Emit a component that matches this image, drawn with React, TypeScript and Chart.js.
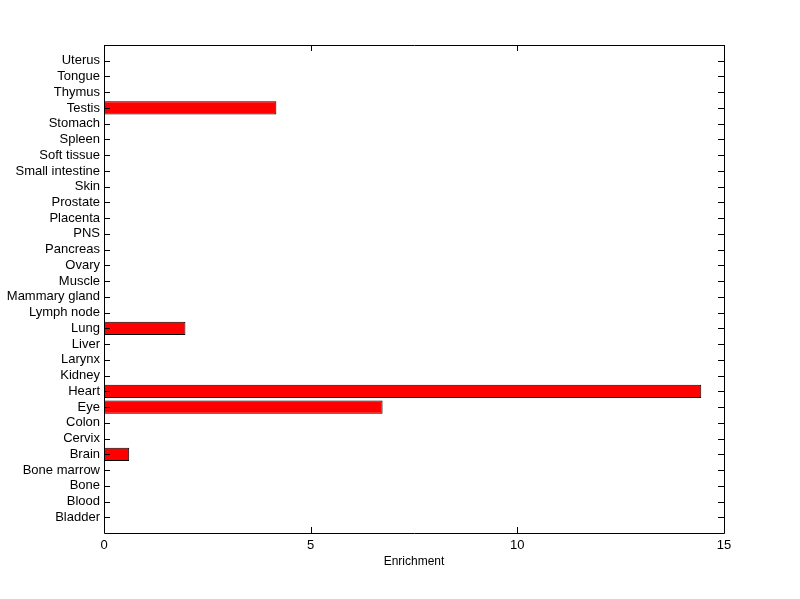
import React, { useEffect, useRef } from "react";
import { Chart, registerables } from "chart.js";

Chart.register(...registerables);

const categories = [
  "Bladder", "Blood", "Bone", "Bone marrow", "Brain", "Cervix", "Colon", "Eye", "Heart", "Kidney",
  "Larynx", "Liver", "Lung", "Lymph node", "Mammary gland", "Muscle", "Ovary", "Pancreas", "PNS",
  "Placenta", "Prostate", "Skin", "Small intestine", "Soft tissue", "Spleen", "Stomach", "Testis",
  "Thymus", "Tongue", "Uterus",
];
const enrichment = [
  0, 0, 0, 0, 0.61, 0, 0, 6.74, 14.45, 0,
  0, 0, 1.97, 0, 0, 0, 0, 0, 0,
  0, 0, 0, 0, 0, 0, 0, 4.17,
  0, 0, 0,
];
const xTicks = [0, 5, 10, 15];

const FONT = "'Liberation Sans', Arial, Helvetica, sans-serif";

const matlabBox = {
  id: "matlabBox",
  afterDraw(chart: any) {
    const { ctx, chartArea } = chart;
    const { left, right, top, bottom } = chartArea;
    const xs = chart.scales.x;
    const ys = chart.scales.y;
    ctx.save();
    ctx.strokeStyle = "#000";
    ctx.lineWidth = 1;
    ctx.beginPath();
    ctx.rect(Math.round(left) + 0.5, Math.round(top) + 0.5, Math.round(right - left), Math.round(bottom - top));
    ctx.stroke();
    ctx.beginPath();
    ys.ticks.forEach((t: any, i: number) => {
      if (t.label === "") return;
      const y = Math.round(ys.getPixelForTick(i)) + 0.5;
      ctx.moveTo(left, y);
      ctx.lineTo(left + 6, y);
      ctx.moveTo(right, y);
      ctx.lineTo(right - 6, y);
    });
    xs.ticks.forEach((t: any, i: number) => {
      const x = Math.round(xs.getPixelForTick(i)) + 0.5;
      ctx.moveTo(x, bottom);
      ctx.lineTo(x, bottom - 6);
      ctx.moveTo(x, top);
      ctx.lineTo(x, top + 6);
    });
    ctx.stroke();
    ctx.restore();
  },
};

export default function App() {
  const ref = useRef<HTMLCanvasElement | null>(null);
  useEffect(() => {
    document.body.style.margin = "0";
    const labels = ["", ...categories, ""];
    const data = [null, ...enrichment, null];
    const chart = new Chart(ref.current as HTMLCanvasElement, {
      type: "bar",
      data: {
        labels,
        datasets: [
          {
            data: data as any,
            backgroundColor: "#ff0000",
            borderColor: "#000000",
            borderWidth: 1,
            borderSkipped: false,
            categoryPercentage: 1,
            barPercentage: 0.84,
          },
        ],
      },
      options: {
        indexAxis: "y",
        animation: false,
        responsive: false,
        maintainAspectRatio: false,
        layout: { padding: { top: 45, right: 76, left: 0, bottom: 0 } },
        plugins: { legend: { display: false }, tooltip: { enabled: false } },
        scales: {
          x: {
            type: "linear",
            min: 0,
            max: 15,
            afterBuildTicks: (s: any) => {
              s.ticks = xTicks.map((v) => ({ value: v }));
            },
            afterFit: (s: any) => {
              s.height = 66;
            },
            grid: { display: false, drawTicks: false, tickLength: 0 },
            border: { display: false },
            ticks: { color: "#000", font: { family: FONT, size: 13 }, padding: 5 },
            title: {
              display: true,
              text: "Enrichment",
              color: "#000",
              font: { family: FONT, size: 12 },
              padding: { top: 2, bottom: 30 },
            },
          },
          y: {
            type: "category",
            reverse: true,
            offset: false,
            afterFit: (s: any) => {
              s.width = 104;
            },
            grid: { display: false, drawTicks: false, tickLength: 0 },
            border: { display: false },
            ticks: {
              color: "#000",
              font: { family: FONT, size: 13 },
              padding: 4,
              autoSkip: false,
            },
          },
        },
      },
      plugins: [matlabBox],
    });
    return () => chart.destroy();
  }, []);
  return (
    <div style={{ width: 800, height: 599, background: "#fff" }}>
      <canvas ref={ref} width={800} height={599} style={{ display: "block" }} />
    </div>
  );
}
